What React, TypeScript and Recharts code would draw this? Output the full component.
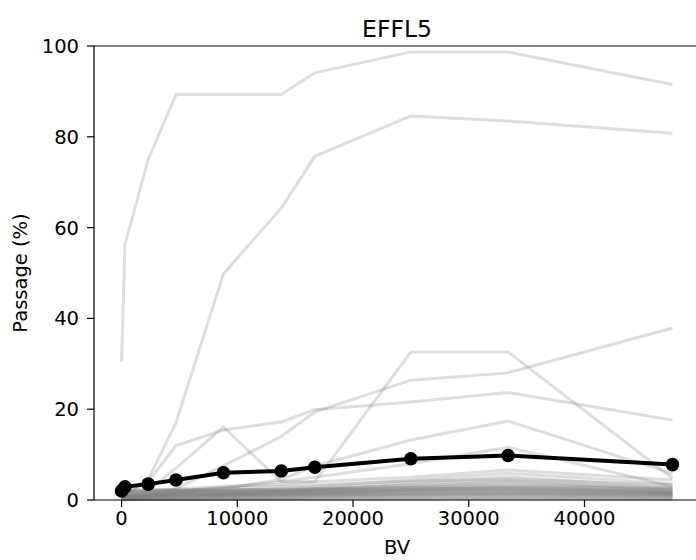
import { LineChart, Line, XAxis, YAxis, ReferenceLine, Label } from 'recharts';

const bv = [0, 300, 2300, 4700, 8800, 13800, 16700, 25000, 33400, 47600];
const mean = [2.0, 2.9, 3.5, 4.4, 6.0, 6.4, 7.2, 9.1, 9.8, 7.8];

// individual runs (grey)
const runA = [30.4, 56.3, 75.0, 89.3, 89.3, 89.3, 94.1, 98.7, 98.7, 91.5];
const runB = [0.4, 0.8, 4.5, 17.0, 49.8, 64.3, 75.7, 84.6, 83.5, 80.8];
const runC = [0.5, 1.2, 4.0, 12.0, 15.4, 17.2, 19.9, 21.6, 23.7, 17.6];
const runD = [0.3, 0.6, 2.0, 7.0, 16.1, 4.0, 4.0, 32.6, 32.6, 4.8];
const runE = [0.2, 0.5, 1.0, 2.5, 7.5, 14.0, 19.4, 26.4, 28.0, 37.9];
const runF = [0.2, 0.4, 0.8, 1.5, 2.5, 4.5, 7.5, 13.2, 17.4, 5.8];
const runG = [0.3, 0.5, 1.0, 1.8, 2.8, 4.0, 5.0, 8.0, 11.6, 3.0];
const runH = [1.2, 1.5, 2.0, 2.4, 3.0, 3.4, 4.0, 5.0, 6.6, 4.4];
const runI = [0.8, 1.0, 1.3, 1.6, 2.0, 2.6, 3.0, 4.4, 5.9, 3.6];
const runJ = [0.5, 0.7, 1.0, 1.2, 1.5, 2.0, 2.5, 3.8, 5.1, 2.8];
const runK = [0.4, 0.6, 0.8, 1.0, 1.3, 1.7, 2.2, 3.4, 4.4, 2.2];
const runL = [0.3, 0.4, 0.6, 0.8, 1.0, 1.4, 1.8, 2.8, 3.7, 1.8];
const runM = [0.2, 0.3, 0.5, 0.6, 0.8, 1.1, 1.4, 2.2, 2.9, 1.5];
const runN = [1.5, 1.8, 2.2, 2.0, 1.8, 2.0, 2.2, 2.5, 2.6, 2.0];
const runO = [1.0, 1.2, 1.4, 1.5, 1.6, 1.8, 1.9, 2.2, 2.4, 1.7];
const runP = [0.7, 0.8, 1.0, 1.1, 1.2, 1.3, 1.5, 1.8, 2.0, 1.4];
const runQ = [0.5, 0.6, 0.7, 0.8, 0.9, 1.0, 1.2, 1.5, 1.7, 1.2];
const runR = [0.3, 0.4, 0.5, 0.6, 0.7, 0.8, 1.0, 1.2, 1.4, 1.0];
const runS = [0.2, 0.3, 0.4, 0.5, 0.5, 0.6, 0.8, 1.0, 1.1, 0.8];
const runT = [0.1, 0.2, 0.3, 0.3, 0.4, 0.5, 0.6, 0.8, 0.9, 0.6];
const runU = [0.1, 0.1, 0.2, 0.2, 0.3, 0.3, 0.4, 0.5, 0.6, 0.4];
const runV = [0.0, 0.1, 0.1, 0.1, 0.2, 0.2, 0.3, 0.3, 0.4, 0.3];
const runW = [0.0, 0.0, 0.1, 0.1, 0.1, 0.1, 0.2, 0.2, 0.2, 0.2];
const runX = [1.8, 2.0, 2.1, 2.3, 2.4, 2.2, 2.6, 3.2, 4.0, 2.6];
const runY = [0.6, 0.9, 1.5, 2.0, 2.6, 3.0, 3.3, 4.2, 4.6, 3.3];
const runZ = [0.9, 1.1, 1.2, 1.3, 1.4, 1.6, 1.7, 2.0, 2.2, 1.5];
const run27 = [1.3, 1.4, 1.5, 1.6, 1.7, 1.8, 1.9, 2.1, 2.3, 1.9];
const run28 = [1.6, 1.7, 1.8, 1.9, 2.0, 2.1, 2.2, 2.4, 2.7, 2.2];
const run29 = [1.1, 1.2, 1.3, 1.4, 1.5, 1.6, 1.6, 1.8, 1.9, 1.6];
const run30 = [0.9, 1.0, 1.0, 1.1, 1.2, 1.3, 1.4, 1.5, 1.6, 1.3];
const run31 = [0.6, 0.7, 0.8, 0.9, 1.0, 1.1, 1.1, 1.3, 1.4, 1.1];
const run32 = [1.4, 1.6, 1.9, 2.1, 2.2, 2.3, 2.4, 2.7, 3.0, 2.4];
const run33 = [0.4, 0.5, 0.6, 0.7, 0.8, 0.9, 1.0, 1.1, 1.2, 0.9];
const run34 = [2.0, 2.2, 2.3, 2.2, 2.1, 2.3, 2.5, 2.8, 3.3, 2.6];

const runs = [
  runA, runB, runC, runD, runE, runF, runG, runH, runI, runJ, runK, runL, runM,
  runN, runO, runP, runQ, runR, runS, runT, runU, runV, runW, runX, runY, runZ,
  run27, run28, run29, run30, run31, run32, run33, run34,
];

const xTicks = [0, 10000, 20000, 30000, 40000];
const yTicks = [0, 20, 40, 60, 80, 100];

const data = bv.map((x, i) => {
  const row: Record<string, number> = { bv: x, mean: mean[i] };
  runs.forEach((r, k) => {
    row['r' + k] = r[i];
  });
  return row;
});

const font = 'DejaVu Sans';
const fs = 19.5;
const tickStyle = { fill: '#000', fontSize: fs, fontFamily: font };

export default function App() {
  return (
    <div style={{ position: 'absolute', left: 0, top: 0, width: 696, height: 560, overflow: 'hidden', background: '#fff' }}>
      <LineChart width={710} height={560} data={data} margin={{ top: 46, right: 10, left: 0, bottom: 0 }}>
        <XAxis
          dataKey="bv"
          type="number"
          domain={[-2380, 49980]}
          ticks={xTicks}
          allowDataOverflow
          height={60}
          tick={tickStyle}
          tickSize={7}
          tickMargin={4}
          stroke="#000"
          axisLine={{ stroke: '#000', strokeWidth: 1.2 }}
          tickLine={{ stroke: '#000', strokeWidth: 1.2 }}
        >
          <Label value="BV" position="insideBottom" offset={6} fill="#000" fontSize={fs} fontFamily={font} />
        </XAxis>
        <YAxis
          type="number"
          domain={[0, 100]}
          ticks={yTicks}
          width={94}
          tick={tickStyle}
          tickSize={7}
          tickMargin={8}
          stroke="#000"
          axisLine={{ stroke: '#000', strokeWidth: 1.2 }}
          tickLine={{ stroke: '#000', strokeWidth: 1.2 }}
        >
          <Label
            content={() => (
              <text
                x={20}
                y={273}
                transform="rotate(-90 20 273)"
                textAnchor="middle"
                dominantBaseline="central"
                fill="#000"
                fontSize={fs}
                fontFamily={font}
              >
                Passage (%)
              </text>
            )}
          />
        </YAxis>
        <ReferenceLine
          y={100}
          stroke="#000"
          strokeWidth={1.2}
          label={{ value: 'EFFL5', position: 'top', offset: 9, fill: '#000', fontSize: 23.5, fontFamily: font }}
        />
        {runs.map((_, k) => (
          <Line
            key={k}
            dataKey={'r' + k}
            type="linear"
            stroke="#808080"
            strokeOpacity={0.27}
            strokeWidth={3}
            dot={false}
            activeDot={false}
            isAnimationActive={false}
          />
        ))}
        <Line
          dataKey="mean"
          type="linear"
          stroke="#000"
          strokeWidth={4}
          dot={{ r: 6.8, fill: '#000', stroke: '#000', strokeWidth: 0 }}
          activeDot={false}
          isAnimationActive={false}
        />
      </LineChart>
    </div>
  );
}
